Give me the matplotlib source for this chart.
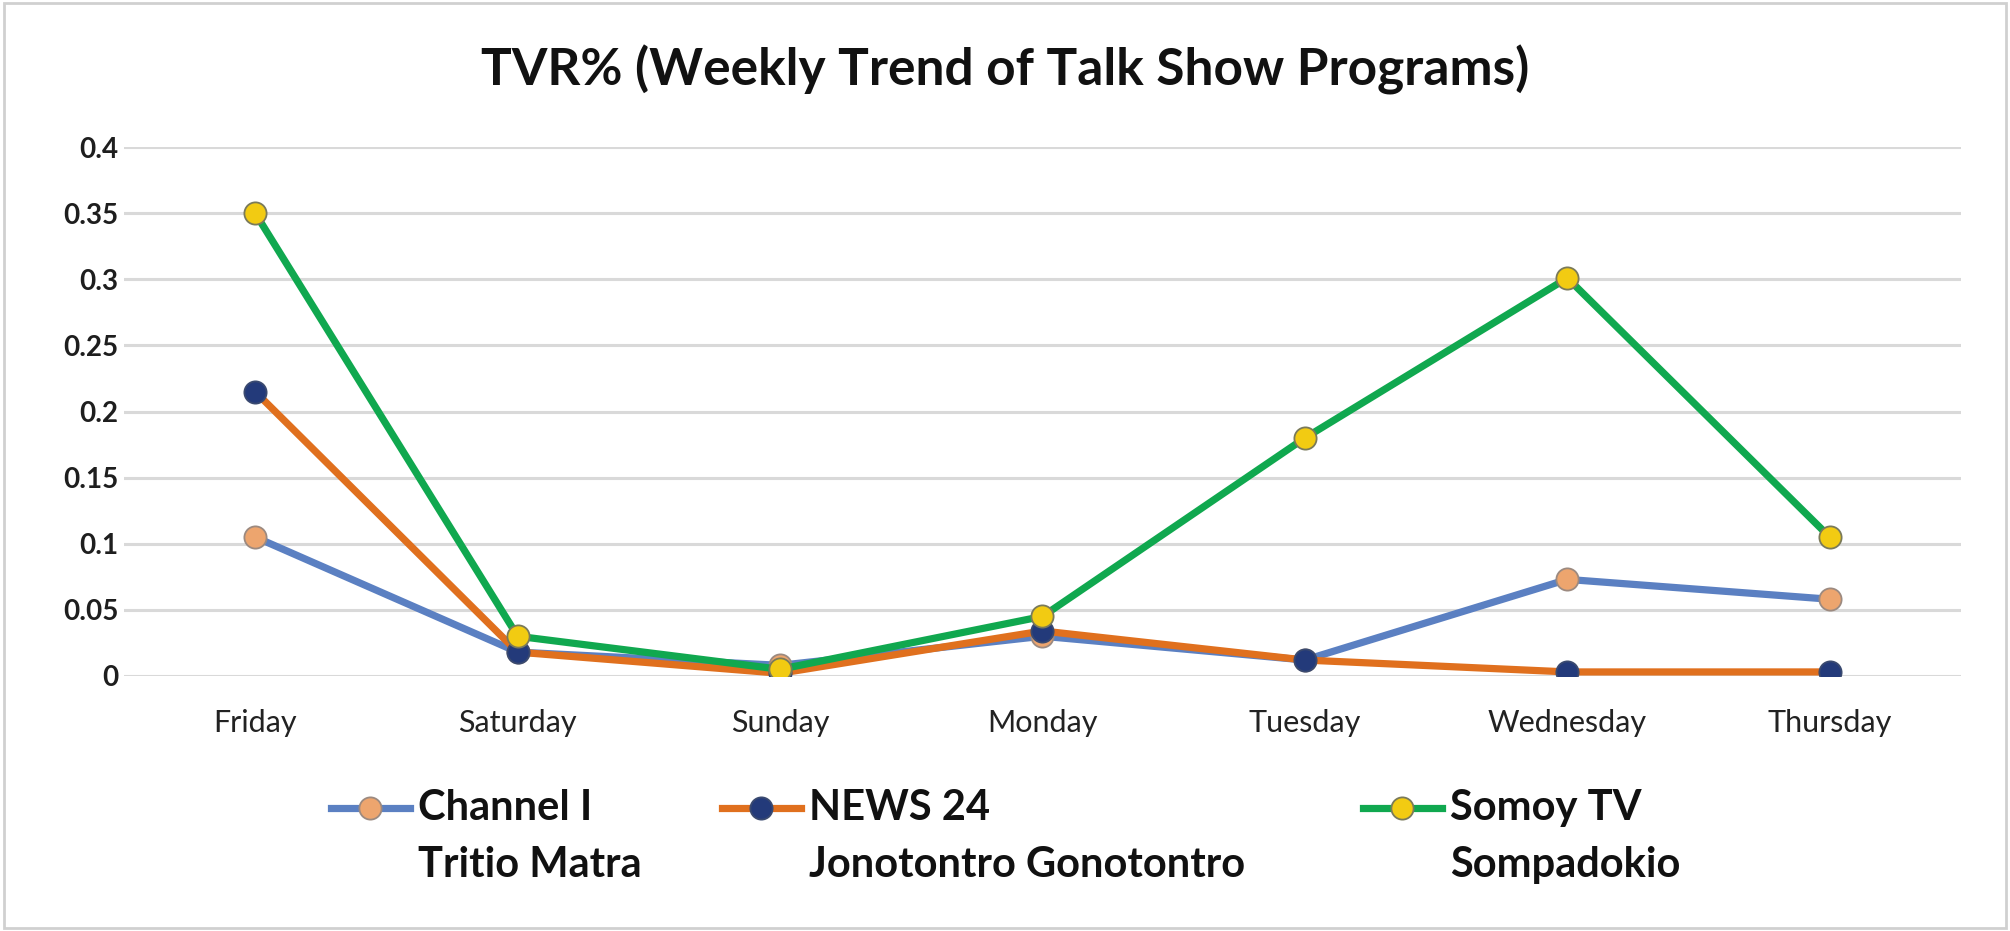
import matplotlib
matplotlib.use("Agg")
import matplotlib.pyplot as plt
from matplotlib.lines import Line2D
from matplotlib.patches import Rectangle
from matplotlib.ticker import FuncFormatter

days = ["Friday", "Saturday", "Sunday", "Monday", "Tuesday", "Wednesday", "Thursday"]
channel_i = [0.105, 0.018, 0.008, 0.030, 0.012, 0.073, 0.058]
news_24 = [0.215, 0.018, 0.002, 0.034, 0.012, 0.003, 0.003]
somoy_tv = [0.350, 0.030, 0.005, 0.045, 0.180, 0.301, 0.105]
series_labels = ["Channel I\nTritio Matra", "NEWS 24\nJonotontro Gonotontro", "Somoy TV\nSompadokio"]
title = "TVR% (Weekly Trend of Talk Show Programs)"

plt.rcParams['font.family'] = ['Lato', 'DejaVu Sans']

fig = plt.figure(figsize=(20.10, 9.31), dpi=100)
ax = fig.add_axes([0.0617, 0.274, 0.9139, 0.568])

styles = [
    dict(color="#5B80C2", mfc="#EDA56E", mec="#9C8A80"),
    dict(color="#E0701E", mfc="#233A7A", mec="#3A4A70"),
    dict(color="#10A84F", mfc="#F2CB12", mec="#7A7A5A"),
]
series = [channel_i, news_24, somoy_tv]
x = list(range(len(days)))
for vals, st in zip(series, styles):
    ax.plot(x, vals, color=st["color"], lw=5.2, marker="o", ms=16,
            mfc=st["mfc"], mec=st["mec"], mew=1.3, solid_capstyle="round", zorder=3)

ax.set_xlim(-0.5, len(days) - 0.5)
ax.set_ylim(0, 0.4)
ax.set_yticks([i * 0.05 for i in range(9)])
ax.yaxis.set_major_formatter(FuncFormatter(lambda v, p: "%g" % round(v, 2)))
ax.set_xticks(x)
ax.set_xticklabels(days)
ax.tick_params(axis="x", length=0, pad=24, labelsize=22, colors="#222222")
ax.tick_params(axis="y", length=0, pad=4, labelsize=20, colors="#1E1E1E")
for lab in ax.get_yticklabels():
    lab.set_fontweight("bold")
ax.grid(axis="y", color="#D9D9D9", lw=2.2, zorder=0)
for s in ax.spines.values():
    s.set_visible(False)

fig.text(0.5, 0.925, title, ha="center", va="center", fontsize=37, fontweight="bold", color="#111111")

# legend drawn manually (handle beside first line)
leg_x = [0.1645, 0.359, 0.678]
hlen = 0.0393
for lx, lab, st in zip(leg_x, series_labels, styles):
    y1 = 0.132
    fig.add_artist(Line2D([lx, lx + hlen], [y1, y1], transform=fig.transFigure,
                          color=st["color"], lw=5.2, marker=None))
    fig.add_artist(Line2D([lx + hlen / 2], [y1], transform=fig.transFigure, marker="o",
                          ms=16, mfc=st["mfc"], mec=st["mec"], mew=1.3, lw=0))
    first, second = lab.split("\n")
    fig.text(lx + hlen + 0.004, y1, first, ha="left", va="center", fontsize=30, fontweight="bold", color="#111111")
    fig.text(lx + hlen + 0.004, y1 - 0.061, second, ha="left", va="center", fontsize=30, fontweight="bold", color="#111111")

fig.add_artist(Rectangle((0.002, 0.003), 0.996, 0.994, transform=fig.transFigure,
                         fill=False, ec="#D0D0D0", lw=2))

fig.savefig("out.png", dpi=100)
